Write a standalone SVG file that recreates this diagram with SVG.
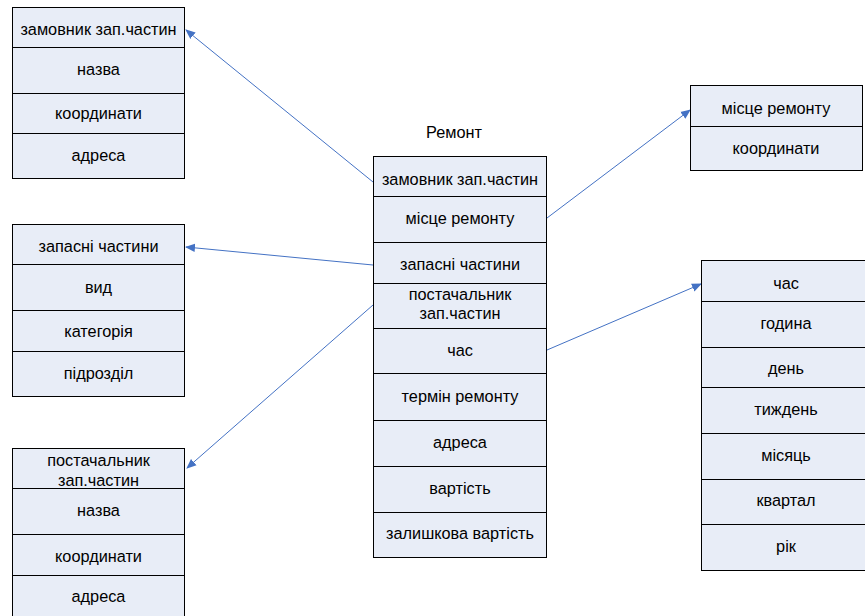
<svg xmlns="http://www.w3.org/2000/svg" width="865" height="616" viewBox="0 0 865 616">
<defs>
<marker id="arr" viewBox="0 0 10 10" refX="9" refY="5" markerWidth="10" markerHeight="10" markerUnits="userSpaceOnUse" orient="auto">
<path d="M0,0.8 L10,5 L0,9.2 z" fill="#4472C4"/>
</marker>
</defs>
<style>
.c{fill:#E8EDF7;stroke:#000;stroke-width:1}
.t{font-family:"Liberation Sans",Arial,sans-serif;font-size:16.3px;fill:#000;text-anchor:middle}
.l{stroke:#4472C4;stroke-width:1;fill:none}
</style>
<rect width="865" height="616" fill="#fff"/>
<g id="connectors">
<line class="l" x1="373" y1="182" x2="186" y2="30" marker-end="url(#arr)"/>
<line class="l" x1="373" y1="265" x2="186" y2="247" marker-end="url(#arr)"/>
<line class="l" x1="373" y1="305" x2="187" y2="468" marker-end="url(#arr)"/>
<line class="l" x1="547" y1="218" x2="690" y2="110" marker-end="url(#arr)"/>
<line class="l" x1="547" y1="350" x2="701" y2="284" marker-end="url(#arr)"/>
</g>
<g id="zamovnyk">
<rect class="c" x="12.5" y="7.5" width="172" height="40"/>
<rect class="c" x="12.5" y="47.5" width="172" height="46"/>
<rect class="c" x="12.5" y="93.5" width="172" height="40"/>
<rect class="c" x="12.5" y="133.5" width="172" height="45"/>
<text class="t" x="98.5" y="35">замовник зап.частин</text>
<text class="t" x="98.5" y="75">назва</text>
<text class="t" x="98.5" y="119">координати</text>
<text class="t" x="98.5" y="161">адреса</text>
</g>
<g id="zapasni">
<rect class="c" x="12.5" y="224.5" width="172" height="40"/>
<rect class="c" x="12.5" y="264.5" width="172" height="46"/>
<rect class="c" x="12.5" y="310.5" width="172" height="41"/>
<rect class="c" x="12.5" y="351.5" width="172" height="45"/>
<text class="t" x="98.5" y="252">запасні частини</text>
<text class="t" x="98.5" y="293">вид</text>
<text class="t" x="98.5" y="337">категорія</text>
<text class="t" x="98.5" y="379">підрозділ</text>
</g>
<g id="postachalnyk">
<rect class="c" x="12.5" y="448.5" width="172" height="40"/>
<rect class="c" x="12.5" y="488.5" width="172" height="46"/>
<rect class="c" x="12.5" y="534.5" width="172" height="41"/>
<rect class="c" x="12.5" y="575.5" width="172" height="45"/>
<text class="t" x="98.5" y="466">постачальник</text>
<text class="t" x="98.5" y="486">зап.частин</text>
<text class="t" x="98.5" y="516">назва</text>
<text class="t" x="98.5" y="562">координати</text>
<text class="t" x="98.5" y="602">адреса</text>
</g>
<g id="remont">
<text class="t" x="454" y="138">Ремонт</text>
<rect class="c" x="373.5" y="156.5" width="173" height="40"/>
<rect class="c" x="373.5" y="196.5" width="173" height="46"/>
<rect class="c" x="373.5" y="242.5" width="173" height="41"/>
<rect class="c" x="373.5" y="283.5" width="173" height="45"/>
<rect class="c" x="373.5" y="328.5" width="173" height="45"/>
<rect class="c" x="373.5" y="373.5" width="173" height="47"/>
<rect class="c" x="373.5" y="420.5" width="173" height="46"/>
<rect class="c" x="373.5" y="466.5" width="173" height="46"/>
<rect class="c" x="373.5" y="512.5" width="173" height="45"/>
<text class="t" x="460" y="185">замовник зап.частин</text>
<text class="t" x="460" y="224">місце ремонту</text>
<text class="t" x="460" y="270">запасні частини</text>
<text class="t" x="460" y="300">постачальник</text>
<text class="t" x="460" y="319">зап.частин</text>
<text class="t" x="460" y="356">час</text>
<text class="t" x="460" y="402">термін ремонту</text>
<text class="t" x="460" y="448">адреса</text>
<text class="t" x="460" y="494">вартість</text>
<text class="t" x="460" y="539">залишкова вартість</text>
</g>
<g id="mistse">
<rect class="c" x="690.5" y="85.5" width="172" height="41"/>
<rect class="c" x="690.5" y="126.5" width="172" height="44"/>
<text class="t" x="776" y="114">місце ремонту</text>
<text class="t" x="776" y="154">координати</text>
</g>
<g id="chas">
<rect class="c" x="701.5" y="260.5" width="165" height="41"/>
<rect class="c" x="701.5" y="301.5" width="165" height="46"/>
<rect class="c" x="701.5" y="347.5" width="165" height="40"/>
<rect class="c" x="701.5" y="387.5" width="165" height="46"/>
<rect class="c" x="701.5" y="433.5" width="165" height="46"/>
<rect class="c" x="701.5" y="479.5" width="165" height="45"/>
<rect class="c" x="701.5" y="524.5" width="165" height="46"/>
<text class="t" x="786" y="289">час</text>
<text class="t" x="786" y="329">година</text>
<text class="t" x="786" y="374">день</text>
<text class="t" x="786" y="415">тиждень</text>
<text class="t" x="786" y="461">місяць</text>
<text class="t" x="786" y="506">квартал</text>
<text class="t" x="786" y="552">рік</text>
</g>
</svg>
